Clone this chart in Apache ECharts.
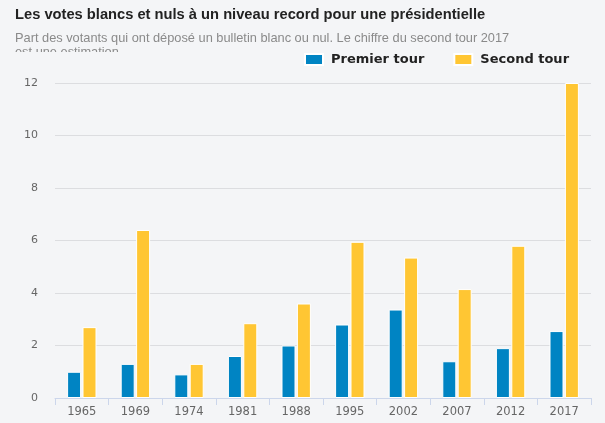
<!DOCTYPE html>
<html><head><meta charset="utf-8">
<script src="https://cdn.jsdelivr.net/npm/echarts@6/dist/echarts.min.js"></script>
<style>html,body{margin:0;padding:0;background:#f4f5f7}#c{width:605px;height:423px}</style>
</head><body><div id="c"></div>
<script>
const categories = ['1965','1969','1974','1981','1988','1995','2002','2007','2012','2017'];
const premierTour = [1.0, 1.3, 0.9, 1.6, 2.0, 2.8, 3.37, 1.4, 1.9, 2.55];
const secondTour = [2.7, 6.4, 1.3, 2.85, 3.6, 5.95, 5.35, 4.15, 5.8, 12.0];
const yTicks = [0, 2, 4, 6, 8, 10, 12];

const chart = echarts.init(document.getElementById('c'), null, {renderer:'canvas'});
chart.setOption({
  backgroundColor: '#f4f5f7',
  animation: false,
  title: [{
    text: 'Les votes blancs et nuls à un niveau record pour une présidentielle',
    left: 10, top: 2,
    textStyle: {fontFamily: 'Liberation Sans, Arial', fontWeight: 'bold', fontSize: 14.7, color: '#222'}
  }, {
    text: 'Part des votants qui ont déposé un bulletin blanc ou nul. Le chiffre du second tour 2017\nest une estimation',
    left: 10, top: 26,
    textStyle: {fontFamily: 'Liberation Sans, Arial', fontWeight: 'normal', fontSize: 12.8, color: '#8a8a8a', lineHeight: 14}
  }],
  graphic: [{
    type: 'rect', z: 100, left: 0, top: 52,
    shape: {width: 300, height: 14},
    style: {fill: '#f4f5f7'}
  }],
  legend: {
    left: 304, top: 53, padding: 0, itemWidth: 18, itemHeight: 11, itemGap: 29,
    icon: 'rect',
    textStyle: {fontFamily: 'DejaVu Sans, Verdana', fontWeight: 'bold', fontSize: 13, color: '#222', padding: [0, 0, 0, 3]},
    data: ['Premier tour', 'Second tour']
  },
  grid: {left: 55, right: 14, top: 83, bottom: 25, containLabel: false},
  xAxis: {
    type: 'category', data: categories,
    axisLine: {lineStyle: {color: '#ccd6eb'}},
    axisTick: {show: true, length: 7, lineStyle: {color: '#ccd6eb'}},
    axisLabel: {fontFamily: 'DejaVu Sans, Verdana', fontSize: 11.5, color: '#666', margin: 8}
  },
  yAxis: {
    type: 'value', min: yTicks[0], max: yTicks[yTicks.length-1], interval: 2,
    axisLine: {show: false}, axisTick: {show: false},
    splitLine: {lineStyle: {color: '#dcdde0'}},
    axisLabel: {fontFamily: 'DejaVu Sans, Verdana', fontSize: 11, color: '#666', margin: 17}
  },
  series: [{
    name: 'Premier tour', type: 'bar', data: premierTour,
    barWidth: 14, barGap: '10%',
    itemStyle: {color: '#0084c3', borderColor: '#ffffff', borderWidth: 1}
  }, {
    name: 'Second tour', type: 'bar', data: secondTour,
    barWidth: 14,
    itemStyle: {color: '#ffc633', borderColor: '#ffffff', borderWidth: 1}
  }]
});
</script></body></html>
